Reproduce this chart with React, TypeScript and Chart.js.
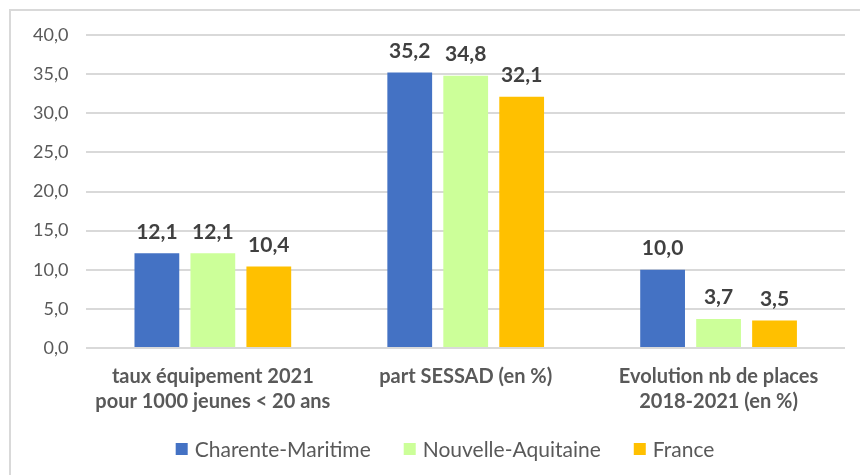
import React, { useEffect, useRef } from "react";
import { Chart, registerables } from "chart.js";

Chart.register(...registerables);

const categories: string[][] = [
  ["taux équipement 2021", "pour 1000 jeunes < 20 ans"],
  ["part SESSAD (en %)"],
  ["Evolution nb de places", "2018-2021 (en %)"],
];
const seriesNames = ["Charente-Maritime", "Nouvelle-Aquitaine", "France"];
const charenteMaritime = [12.1, 35.2, 10.0];
const nouvelleAquitaine = [12.1, 34.8, 3.7];
const france = [10.4, 32.1, 3.5];
const seriesColors = ["#4472C4", "#CCFF99", "#FFC000"];
const yMin = 0;
const yMax = 40;
const yStep = 5;

const FONT = "Lato, 'Liberation Sans', sans-serif";

const fmt = (v: number) => v.toFixed(1).replace(".", ",");

const valueLabels = {
  id: "valueLabels",
  afterDatasetsDraw(chart: any) {
    const ctx = chart.ctx;
    ctx.save();
    ctx.font = `bold 21px ${FONT}`;
    ctx.fillStyle = "#404040";
    ctx.textAlign = "center";
    ctx.textBaseline = "bottom";
    chart.data.datasets.forEach((ds: any, i: number) => {
      const meta = chart.getDatasetMeta(i);
      meta.data.forEach((bar: any, j: number) => {
        ctx.fillText(fmt(ds.data[j]), bar.x, bar.y - 11);
      });
    });
    ctx.restore();
  },
};

// Legend drawn from the datasets, with spacing like the original
const bottomLegend = {
  id: "bottomLegend",
  afterDraw(chart: any) {
    const ctx = chart.ctx;
    ctx.save();
    ctx.font = `21px ${FONT}`;
    ctx.textBaseline = "middle";
    ctx.textAlign = "left";
    const box = 12;
    const boxGap = 7;
    const itemGap = 33;
    const items = chart.data.datasets.map((ds: any) => ({
      text: ds.label,
      color: ds.backgroundColor,
      w: box + boxGap + ctx.measureText(ds.label).width,
    }));
    const total = items.reduce((s: number, it: any) => s + it.w, 0) + itemGap * (items.length - 1);
    let x = chart.width / 2 + 15 - total / 2;
    const y = chart.height - 26;
    items.forEach((it: any) => {
      ctx.fillStyle = it.color;
      ctx.fillRect(x, y - box / 2, box, box);
      ctx.fillStyle = "#595959";
      ctx.fillText(it.text, x + box + boxGap, y + 1);
      x += it.w + itemGap;
    });
    ctx.restore();
  },
};

export default function App() {
  const ref = useRef<HTMLCanvasElement | null>(null);
  useEffect(() => {
    if (!ref.current) return;
    const data = [charenteMaritime, nouvelleAquitaine, france];
    const chart = new Chart(ref.current, {
      type: "bar",
      data: {
        labels: categories,
        datasets: seriesNames.map((name, i) => ({
          label: name,
          data: data[i],
          backgroundColor: seriesColors[i],
          borderWidth: 0,
          categoryPercentage: 0.664,
          barPercentage: 0.8,
        })),
      },
      options: {
        animation: false,
        responsive: false,
        maintainAspectRatio: false,
        layout: { padding: { left: 15, right: 15, top: 35, bottom: 45 } },
        plugins: {
          legend: { display: false },
          tooltip: { enabled: false },
          title: { display: false },
        },
        scales: {
          x: {
            grid: { display: false, drawTicks: false },
            border: { display: false },
            ticks: {
              color: "#595959",
              font: { family: FONT, size: 20, weight: "bold", lineHeight: 1.25 },
              padding: 16,
              maxRotation: 0,
              autoSkip: false,
            },
          },
          y: {
            min: yMin,
            max: yMax,
            grid: { color: "#d9d9d9", lineWidth: 2, drawTicks: false },
            border: { display: false },
            ticks: {
              stepSize: yStep,
              color: "#595959",
              font: { family: FONT, size: 18 },
              padding: 18,
              callback: (v: any) => fmt(Number(v)),
            },
          },
        },
      },
      plugins: [valueLabels, bottomLegend],
    });
    return () => chart.destroy();
  }, []);
  return (
    <div style={{ position: "fixed", left: 0, top: 0, width: 860, height: 475, background: "#fff", overflow: "hidden" }}>
      <div
        style={{
          position: "absolute",
          left: 9,
          top: 9,
          width: 900,
          height: 500,
          border: "2px solid #d9d9d9",
          boxSizing: "border-box",
        }}
      />
      <canvas ref={ref} width={860} height={475} style={{ position: "absolute", left: 0, top: 0 }} />
    </div>
  );
}
